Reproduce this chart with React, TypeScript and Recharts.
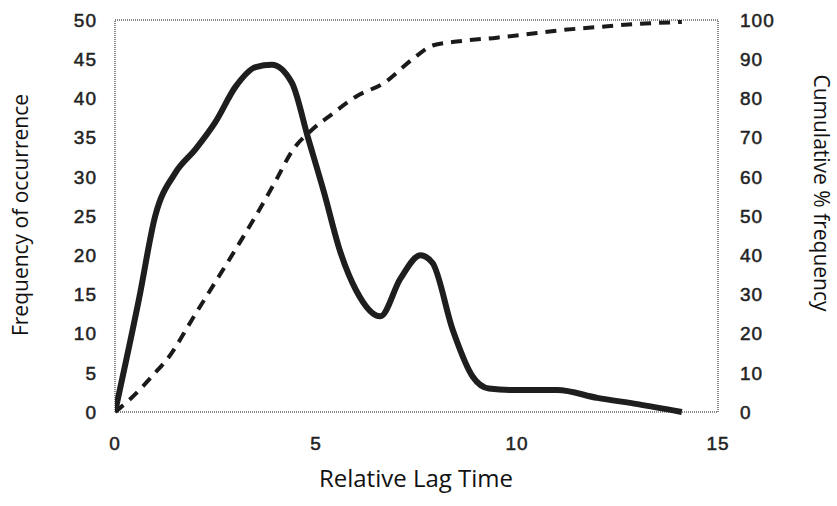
import React from "react";
import { LineChart, Line, XAxis, YAxis, ReferenceArea, Label } from "recharts";

// Frequency of occurrence (left axis)
const freqLag = [0, 0.6, 1, 1.5, 2, 2.5, 3, 3.5, 3.9, 4.4, 4.8, 5.2, 5.6, 6, 6.6, 7.1, 7.6, 7.9, 8.4, 8.9, 9.3, 10, 11, 12, 13, 14.1];
const freqValues = [0, 14.5, 25, 30.5, 33.5, 37, 41.5, 44, 44.3, 42, 35, 28, 20.5, 15.5, 12.2, 17, 20, 19, 10.5, 4.5, 3, 2.8, 2.8, 1.8, 1, 0];

// Cumulative % frequency (right axis)
const cumLag = [0, 0.4, 1, 1.3, 2, 3, 3.5, 4, 4.4, 4.9, 5.4, 6, 6.7, 7.4, 7.9, 8.5, 9.5, 10.5, 11, 12, 13, 14.1];
const cumValues = [0, 3.5, 10, 13.5, 25, 41.5, 50, 59, 66.5, 72, 76, 80.5, 84, 90, 93.5, 94.5, 95.5, 96.7, 97.3, 98.2, 99, 99.5];

const xTicks = [0, 5, 10, 15];
const leftTicks = [0, 5, 10, 15, 20, 25, 30, 35, 40, 45, 50];
const rightTicks = [0, 10, 20, 30, 40, 50, 60, 70, 80, 90, 100];

const freqData = freqLag.map((x, i) => ({ x, y: freqValues[i] }));
const cumData = cumLag.map((x, i) => ({ x, y: cumValues[i] }));

const tickStyle = {
  fontFamily: "'Liberation Sans', Arial, sans-serif",
  fontSize: 19,
  fill: "#222",
  stroke: "#222",
  strokeWidth: 0.5,
  letterSpacing: 1,
};
const titleFont = "'Open Sans', sans-serif";

export default function App() {
  return (
    <div style={{ position: "absolute", left: 0, top: 0, background: "#fff" }}>
      <LineChart width={837} height={506} margin={{ top: 20, right: 0, bottom: 0, left: 0 }}>
        <XAxis
          type="number"
          dataKey="x"
          domain={[0, 15]}
          ticks={xTicks}
          tickLine={false}
          axisLine={false}
          height={94}
          tick={tickStyle}
          dy={17}
          allowDataOverflow
        >
          <Label
            content={() => (
              <text x={416} y={487} textAnchor="middle" fontFamily={titleFont} fontSize={24} fill="#111">
                Relative Lag Time
              </text>
            )}
          />
        </XAxis>
        <YAxis
          yAxisId="left"
          domain={[0, 50]}
          ticks={leftTicks}
          tickLine={false}
          axisLine={false}
          width={115}
          tick={tickStyle}
          dx={-10}
        >
          <Label
            content={() => (
              <text
                x={28}
                y={215}
                textAnchor="middle"
                transform="rotate(-90 28 215)"
                fontFamily={titleFont}
                fontSize={21}
                fill="#111"
              >
                Frequency of occurrence
              </text>
            )}
          />
        </YAxis>
        <YAxis
          yAxisId="right"
          orientation="right"
          domain={[0, 100]}
          ticks={rightTicks}
          tickLine={false}
          axisLine={false}
          width={119}
          tick={tickStyle}
          dx={14}
        >
          <Label
            content={() => (
              <text
                x={814}
                y={193}
                textAnchor="middle"
                transform="rotate(90 814 193)"
                fontFamily={titleFont}
                fontSize={21}
                fill="#111"
              >
                Cumulative % frequency
              </text>
            )}
          />
        </YAxis>
        <ReferenceArea
          yAxisId="left"
          x1={0}
          x2={15}
          y1={0}
          y2={50}
          fill="none"
          stroke="#888"
          strokeWidth={2}
          strokeDasharray="1 1"
        />
        <Line
          yAxisId="right"
          data={cumData}
          dataKey="y"
          type="monotone"
          stroke="#1a1a1a"
          strokeWidth={4}
          strokeDasharray="11 8"
          dot={false}
          isAnimationActive={false}
        />
        <Line
          yAxisId="left"
          data={freqData}
          dataKey="y"
          type="monotone"
          stroke="#1e1e1e"
          strokeWidth={6}
          strokeLinejoin="round"
          dot={false}
          isAnimationActive={false}
        />
      </LineChart>
    </div>
  );
}
